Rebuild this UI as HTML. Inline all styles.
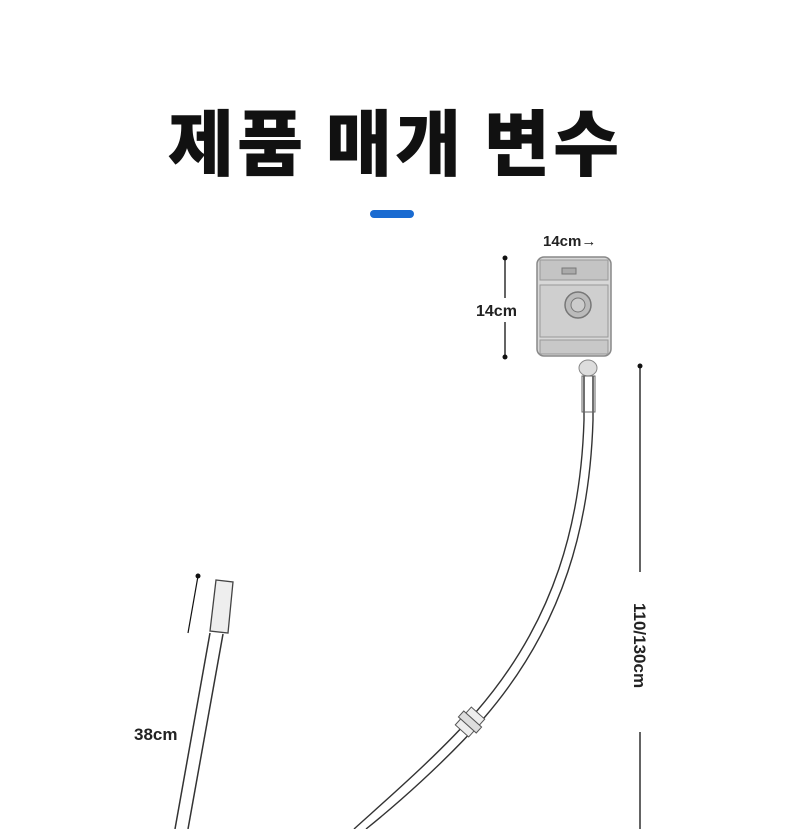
<!DOCTYPE html>
<html><head><meta charset="utf-8"><style>
html,body{margin:0;padding:0;background:#fff;}
body{width:790px;height:829px;overflow:hidden;position:relative;font-family:"Liberation Sans","Noto Sans CJK KR",sans-serif;}
.t{position:absolute;left:0;width:790px;top:86px;text-align:center;font-family:"Noto Sans CJK KR","NanumGothic",sans-serif;font-weight:900;font-size:72px;letter-spacing:3px;color:#111;}
</style></head><body>
<div class="t">제품 매개 변수</div>
<svg width="790" height="829" style="position:absolute;left:0;top:0">
<rect x="370" y="210" width="44" height="8" rx="4" fill="#1a6bd1"/>
<text x="543" y="246" font-size="15" font-family="Liberation Sans,sans-serif" fill="#222" font-weight="bold">14cm→</text>
<circle cx="505" cy="258" r="2.5" fill="#111"/><line x1="505" y1="258" x2="505" y2="298" stroke="#111" stroke-width="1.3"/>
<line x1="505" y1="322" x2="505" y2="357" stroke="#111" stroke-width="1.3"/><circle cx="505" cy="357" r="2.5" fill="#111"/>
<text x="476" y="316" font-size="16" font-family="Liberation Sans,sans-serif" fill="#222" font-weight="bold">14cm</text>
<rect x="537" y="257" width="74" height="99" rx="7" fill="#d8d8d8" stroke="#888" stroke-width="1.5"/>
<rect x="540" y="260" width="68" height="20" fill="#c4c4c4" stroke="#999"/>
<rect x="562" y="268" width="14" height="6" fill="#aaa" stroke="#777"/>
<rect x="540" y="285" width="68" height="52" fill="#cfcfcf" stroke="#999"/>
<circle cx="578" cy="305" r="13" fill="#bbb" stroke="#777" stroke-width="1.5"/>
<circle cx="578" cy="305" r="7" fill="#ccc" stroke="#777"/>
<rect x="540" y="340" width="68" height="14" fill="#c8c8c8" stroke="#999"/>
<ellipse cx="588" cy="368" rx="9" ry="8" fill="#ddd" stroke="#888"/>
<g fill="none" stroke="#333" stroke-width="1.4">
<path d="M584 376 L584 420 C581 520 556 620 476 712 C436 757 386 800 354 829"/>
<path d="M593 376 L593 420 C590 522 565 624 484 718 C444 763 396 805 366 829"/>
</g>
<rect x="582" y="376" width="13" height="36" fill="none" stroke="#666"/>
<g transform="translate(470,722) rotate(42)"><rect x="-9" y="-12" width="18" height="24" fill="#eee" stroke="#555"/><rect x="-12" y="-4" width="24" height="8" fill="#ddd" stroke="#555"/></g>
<circle cx="640" cy="366" r="2.5" fill="#111"/>
<line x1="640" y1="366" x2="640" y2="572" stroke="#111" stroke-width="1.3"/>
<line x1="640" y1="732" x2="640" y2="829" stroke="#111" stroke-width="1.3"/>
<text transform="translate(634,603) rotate(90)" font-size="17" font-family="Liberation Sans,sans-serif" fill="#222" font-weight="bold">110/130cm</text>
<circle cx="198" cy="576" r="2.5" fill="#111"/><line x1="198" y1="576" x2="188" y2="633" stroke="#111" stroke-width="1.2"/>
<path d="M216 580 L233 582 L228 633 L210 631 Z" fill="#eee" stroke="#444" stroke-width="1.3"/>
<g fill="none" stroke="#333" stroke-width="1.5">
<line x1="210" y1="633" x2="175" y2="829"/><line x1="223" y1="634" x2="188" y2="829"/>
</g>
<text x="134" y="740" font-size="17" font-family="Liberation Sans,sans-serif" fill="#222" font-weight="bold">38cm</text>
</svg>
</body></html>
